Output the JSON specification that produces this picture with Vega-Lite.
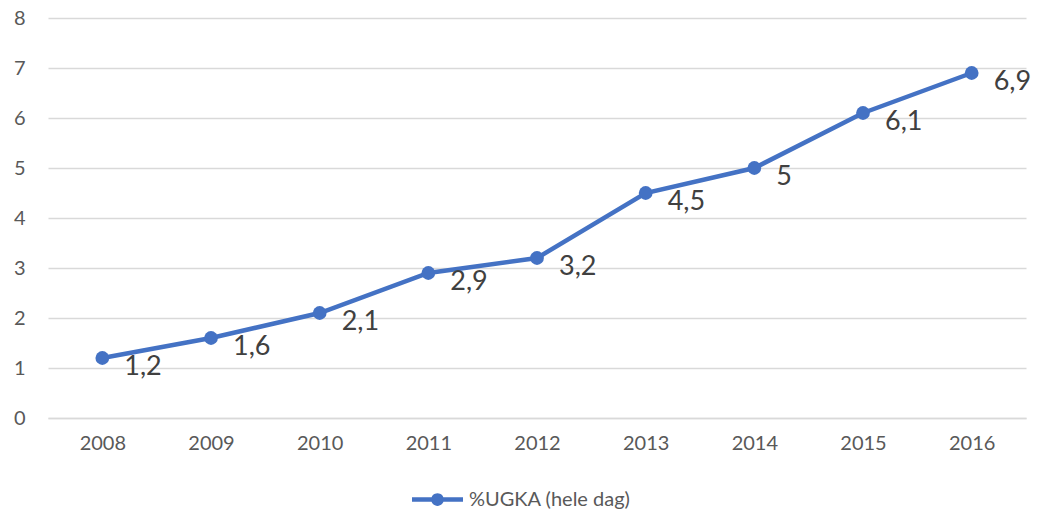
{
  "$schema": "https://vega.github.io/schema/vega-lite/v6.json",
  "width": 978,
  "height": 400,
  "autosize": {"type": "none"},
  "padding": {"left": 48, "top": 18, "right": 12, "bottom": 97},
  "background": "white",
  "config": {
    "locale": {"number": {"decimal": ",", "thousands": ".", "grouping": [3], "currency": ["€", ""]}},
    "view": {"stroke": null},
    "font": "Lato"
  },
  "data": {
    "values": [
      {"year": "2008", "value": 1.2, "series": "%UGKA (hele dag)"},
      {"year": "2009", "value": 1.6, "series": "%UGKA (hele dag)"},
      {"year": "2010", "value": 2.1, "series": "%UGKA (hele dag)"},
      {"year": "2011", "value": 2.9, "series": "%UGKA (hele dag)"},
      {"year": "2012", "value": 3.2, "series": "%UGKA (hele dag)"},
      {"year": "2013", "value": 4.5, "series": "%UGKA (hele dag)"},
      {"year": "2014", "value": 5.0, "series": "%UGKA (hele dag)"},
      {"year": "2015", "value": 6.1, "series": "%UGKA (hele dag)"},
      {"year": "2016", "value": 6.9, "series": "%UGKA (hele dag)"}
    ]
  },
  "encoding": {
    "x": {
      "field": "year", "type": "ordinal",
      "scale": {"type": "point", "padding": 0.5},
      "axis": {
        "title": null, "labelAngle": 0, "labelFont": "Lato", "labelFontSize": 20,
        "labelColor": "#595959", "labelPadding": 15, "ticks": false,
        "domainColor": "#d9d9d9", "domainWidth": 1.3, "grid": false
      }
    },
    "y": {
      "field": "value", "type": "quantitative",
      "scale": {"domain": [0, 8], "nice": false},
      "axis": {
        "title": null, "values": [0, 1, 2, 3, 4, 5, 6, 7, 8], "labelFont": "Lato",
        "labelFontSize": 20, "labelColor": "#595959", "labelPadding": 23,
        "ticks": false, "domain": false, "grid": true, "gridColor": "#d9d9d9", "gridWidth": 1.3
      }
    }
  },
  "layer": [
    {
      "mark": {"type": "line", "strokeWidth": 4.5, "point": {"filled": true, "size": 190, "opacity": 1}},
      "encoding": {
        "color": {
          "field": "series", "type": "nominal",
          "scale": {"range": ["#4472C4"]},
          "legend": {
            "title": null, "orient": "none", "legendX": 364, "legendY": 456,
            "padding": 0,
            "symbolType": "M-1,-0.085L1,-0.085L1,0.085L-1,0.085Z M-0.25,0A0.25,0.25 0 1,1 0.25,0A0.25,0.25 0 1,1 -0.25,0Z",
            "symbolSize": 2601, "symbolStrokeWidth": 0, "symbolOpacity": 1,
            "labelFont": "Lato", "labelFontSize": 20, "labelColor": "#595959", "labelOffset": 6,
            "labelLimit": 400
          }
        }
      }
    },
    {
      "mark": {"type": "text", "align": "left", "baseline": "middle", "dx": 22, "dy": 9, "fontSize": 27, "color": "#404040", "font": "Lato"},
      "encoding": {"text": {"field": "value", "type": "quantitative", "format": "~g"}}
    }
  ]
}
